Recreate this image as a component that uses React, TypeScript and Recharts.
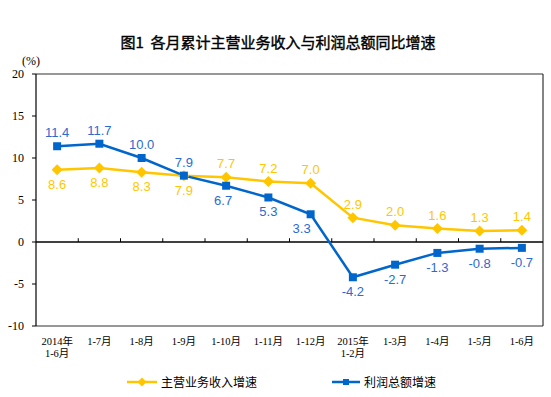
import React from 'react';
import {
    LineChart,
    Line,
    XAxis,
    YAxis,
    ReferenceLine,
} from 'recharts';

// categories (second line of label after \n)
const months = [
    '2014年\n1-6月', '1-7月', '1-8月', '1-9月', '1-10月', '1-11月',
    '1-12月', '2015年\n1-2月', '1-3月', '1-4月', '1-5月', '1-6月',
];
const revenueGrowth = [8.6, 8.8, 8.3, 7.9, 7.7, 7.2, 7.0, 2.9, 2.0, 1.6, 1.3, 1.4];
const profitGrowth = [11.4, 11.7, 10.0, 7.9, 6.7, 5.3, 3.3, -4.2, -2.7, -1.3, -0.8, -0.7];
const yTicks = [-10, -5, 0, 5, 10, 15, 20];

const YELLOW = '#FFC600';
const BLUE = '#0066CC';
const BLUE_TEXT = '#2B6BD0';

const data = months.map((m, i) => ({
    x: i + 0.5,
    revenue: revenueGrowth[i],
    profit: profitGrowth[i],
}));

const CJK = '"Noto Sans CJK SC", "Liberation Sans", sans-serif';

function CategoryTick({ x, y, payload }: any) {
    const idx = Math.round(payload.value - 0.5);
    const lines = (months[idx] || '').split('\n');
    return (
        <text x={x} y={y} textAnchor="middle" fontSize={10.5} fill="#000" fontFamily={'"Liberation Serif", ' + CJK}>
            {lines.map((l, k) => (
                <tspan key={k} x={x} dy={k === 0 ? 11 : 12}>{l}</tspan>
            ))}
        </text>
    );
}

// yellow labels: below for the first four months, above afterwards
function revenueLabel({ x, y, value, index }: any) {
    const below = index < 4;
    return (
        <text x={x} y={below ? y + 19 : y - 9} textAnchor="middle" fontSize={13}
            fill={YELLOW} fontFamily='"Liberation Sans", Arial, sans-serif'>
            {Number(value).toFixed(1)}
        </text>
    );
}

// blue labels: above for the first four months, below afterwards
function profitLabel({ x, y, value, index }: any) {
    const below = index >= 4;
    const dx = index === 4 ? -3 : index === 6 ? -9 : 0;
    return (
        <text x={x + dx} y={below ? y + 19 : y - 9} textAnchor="middle" fontSize={13}
            fill={BLUE_TEXT} fontFamily='"Liberation Sans", Arial, sans-serif'>
            {Number(value).toFixed(1)}
        </text>
    );
}

function Diamond({ cx, cy }: any) {
    return <path d={`M${cx},${cy - 5.5}L${cx + 5.5},${cy}L${cx},${cy + 5.5}L${cx - 5.5},${cy}Z`} fill={YELLOW} />;
}

function Square({ cx, cy }: any) {
    return <rect x={cx - 4} y={cy - 4} width={8} height={8} fill={BLUE} />;
}

function LegendBox() {
    return (
        <svg width={551} height={24}>
            <line x1={127} y1={12} x2={157} y2={12} stroke={YELLOW} strokeWidth={2.5} />
            <path d="M142,7.5L146.5,12L142,16.5L137.5,12Z" fill={YELLOW} />
            <text x={161} y={16.5} fontSize={12} fontFamily={CJK} fill="#000">主营业务收入增速</text>
            <line x1={332} y1={12} x2={360} y2={12} stroke={BLUE} strokeWidth={2.5} />
            <rect x={343} y={9} width={6} height={6} fill={BLUE} />
            <text x={364} y={16.5} fontSize={12} fontFamily={CJK} fill="#000">利润总额增速</text>
        </svg>
    );
}

export default function App() {
    const boundaries = [1, 2, 3, 4, 5, 6, 7, 8, 9, 10, 11];
    return (
        <div style={{ position: 'relative', width: 551, height: 397, background: '#fff' }}>
            <style>{'body{margin:0}'}</style>
            <div style={{
                position: 'absolute', top: 32, left: 0, width: 556, textAlign: 'center',
                fontFamily: CJK, fontSize: 15, fontWeight: 400, color: '#000', lineHeight: '20px',
                WebkitTextStroke: '0.4px #000',
            }}>
                图1&nbsp;&nbsp;各月累计主营业务收入与利润总额同比增速
            </div>
            <div style={{
                position: 'absolute', top: 53, left: 22, fontFamily: '"Liberation Serif", serif',
                fontSize: 12, color: '#000', lineHeight: '16px',
            }}>
                (%)
            </div>
            <LineChart width={551} height={397} data={data}
                margin={{ top: 74, right: 8, left: 0, bottom: 0 }}>
                <XAxis dataKey="x" type="number" domain={[0, 12]}
                    ticks={data.map(d => d.x)} tick={<CategoryTick />}
                    axisLine={{ stroke: '#333', strokeWidth: 1.2 }} tickLine={false} height={71}
                    interval={0} />
                <YAxis domain={[-10, 20]} ticks={yTicks} width={36} interval={0}
                    axisLine={{ stroke: '#000', strokeWidth: 1.2 }}
                    tickLine={{ stroke: '#000' }} tickSize={4} tickMargin={8}
                    tick={{ fontSize: 12, fill: '#000', fontFamily: '"Liberation Serif", serif' }} />
                <ReferenceLine y={20} stroke="#333" strokeWidth={1.2} />
                <ReferenceLine x={12} stroke="#333" strokeWidth={1.2} />
                <ReferenceLine y={0} stroke="#000" strokeWidth={1.5} />
                {boundaries.map(b => (
                    <ReferenceLine key={b} segment={[{ x: b, y: 0 }, { x: b, y: 0.45 }]}
                        stroke="#000" strokeWidth={1} />
                ))}
                <Line dataKey="revenue" stroke={YELLOW} strokeWidth={2.5} type="linear"
                    dot={<Diamond />} activeDot={false} label={revenueLabel}
                    isAnimationActive={false} />
                <Line dataKey="profit" stroke={BLUE} strokeWidth={2.5} type="linear"
                    dot={<Square />} activeDot={false} label={profitLabel}
                    isAnimationActive={false} />
            </LineChart>
            <div style={{ position: 'absolute', top: 370, left: 0 }}>
                <LegendBox />
            </div>
        </div>
    );
}
